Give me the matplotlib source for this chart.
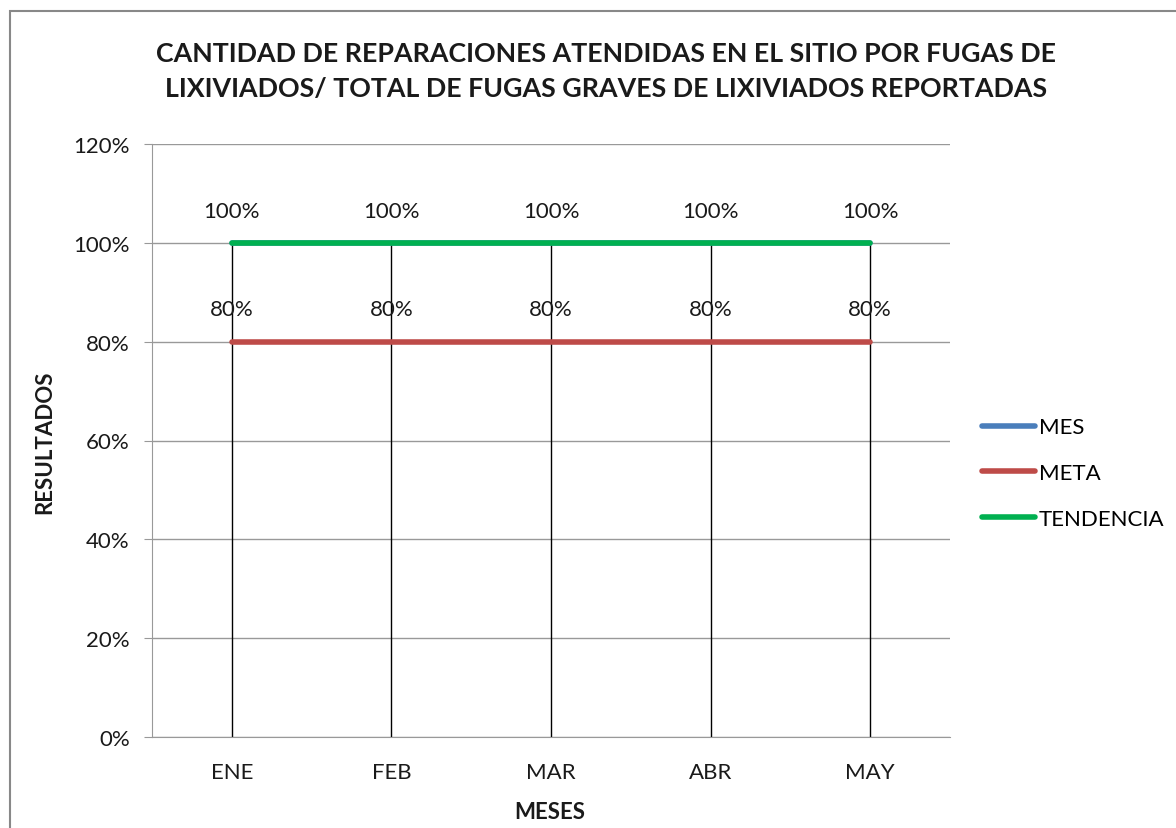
import matplotlib.pyplot as plt
from matplotlib.patches import Rectangle
from matplotlib.ticker import FuncFormatter

meses = ['ENE', 'FEB', 'MAR', 'ABR', 'MAY']
mes = [1.0, 1.0, 1.0, 1.0, 1.0]
meta = [0.8, 0.8, 0.8, 0.8, 0.8]
tendencia = [1.0, 1.0, 1.0, 1.0, 1.0]

plt.rcParams['font.family'] = ['Lato', 'DejaVu Sans']

W, H = 1176, 829
fig = plt.figure(figsize=(W / 100, H / 100), dpi=100)
ax = fig.add_axes([152 / W, 1 - 738 / H, (950 - 152) / W, (738 - 145) / H])

# chart frame (cut off at right and bottom like the screenshot)
fig.patches.append(Rectangle((10 / W, -0.01), 1.2, 1 - 12 / H + 0.01, transform=fig.transFigure,
                             fill=False, edgecolor='#888888', linewidth=1.5))

x = range(len(meses))
# drop lines
tops = [max(a, b, c) for a, b, c in zip(mes, meta, tendencia)]
ax.vlines(x, 0, tops, colors='black', linewidth=1, zorder=2)

ax.plot(x, mes, color='#4a7ebb', linewidth=4, label='MES', zorder=3, solid_capstyle='round')
ax.plot(x, meta, color='#be4b48', linewidth=4, label='META', zorder=3, solid_capstyle='round')
ax.plot(x, tendencia, color='#00b050', linewidth=4, label='TENDENCIA', zorder=4, solid_capstyle='round')

for i, v in enumerate(tendencia):
    ax.annotate(f'{v:.0%}', (i, v), xytext=(0, 16), textcoords='offset points',
                ha='center', va='bottom', fontsize=16, color='#1a1a1a')
for i, v in enumerate(meta):
    ax.annotate(f'{v:.0%}', (i, v), xytext=(0, 16), textcoords='offset points',
                ha='center', va='bottom', fontsize=16, color='#1a1a1a')

ax.set_xlim(-0.5, len(meses) - 0.5)
ax.set_ylim(0, 1.2)
ax.set_yticks([0, 0.2, 0.4, 0.6, 0.8, 1.0, 1.2])
ax.yaxis.set_major_formatter(FuncFormatter(lambda v, p: f'{v:.0%}'))
ax.set_xticks(list(x))
ax.set_xticklabels(meses)
ax.tick_params(axis='x', length=0, pad=18, labelsize=16, labelcolor='#1a1a1a')
ax.tick_params(axis='y', length=6, color='#999999', pad=10, labelsize=16, labelcolor='#1a1a1a')
ax.grid(axis='y', color='#999999', linewidth=1)
ax.set_axisbelow(True)
for s in ['top', 'right']:
    ax.spines[s].set_visible(False)
ax.spines['left'].set_color('#999999')
ax.spines['bottom'].set_color('#999999')

fig.text(606 / W, 1 - 72 / H,
         'CANTIDAD DE REPARACIONES ATENDIDAS EN EL SITIO POR FUGAS DE\nLIXIVIADOS/ TOTAL DE FUGAS GRAVES DE LIXIVIADOS REPORTADAS',
         ha='center', va='center', fontsize=19.3, fontweight='bold', linespacing=1.55, color='#1a1a1a')
fig.text(45 / W, 1 - 442 / H, 'RESULTADOS', rotation=90, ha='center', va='center',
         fontsize=16, fontweight='bold', color='#1a1a1a')
fig.text(550 / W, 1 - 813 / H, 'MESES', ha='center', va='center',
         fontsize=16, fontweight='bold', color='#1a1a1a')

fig.legend(loc='center left', bbox_to_anchor=(962 / W, 1 - 474 / H), frameon=False,
           fontsize=16, handlelength=2.4, handletextpad=0.15, labelspacing=1.15)

plt.savefig('out.png', dpi=100)
